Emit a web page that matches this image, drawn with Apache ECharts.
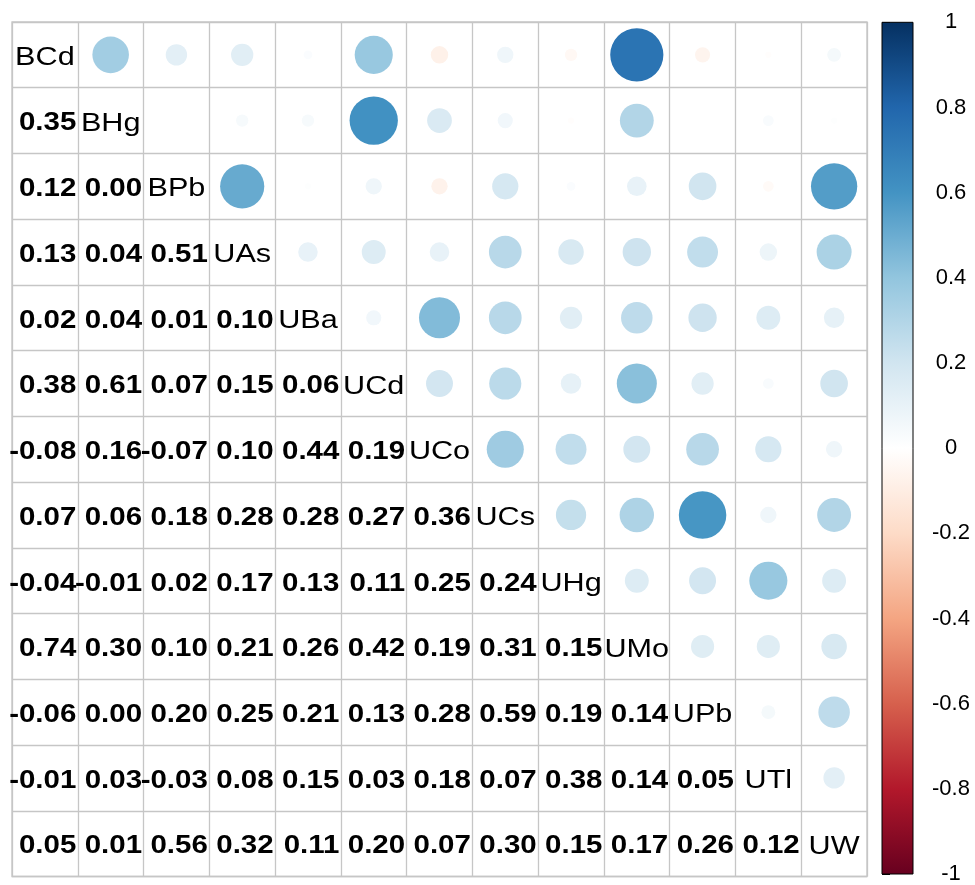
<!DOCTYPE html>
<html>
<head>
<meta charset="utf-8">
<script src="https://cdn.jsdelivr.net/npm/echarts@6/dist/echarts.min.js"></script>
<style>html,body{margin:0;padding:0;background:#fff;}#chart{width:975px;height:885px;}</style>
</head>
<body>
<div id="chart"></div>
<script>
// Variables (diagonal labels / axis categories)
const labels = ['BCd','BHg','BPb','UAs','UBa','UCd','UCo','UCs','UHg','UMo','UPb','UTl','UW'];
// Lower-triangle correlations, one array per row (columns from BCd onward)
const rBHg = [0.35];
const rBPb = [0.12, 0.00];
const rUAs = [0.13, 0.04, 0.51];
const rUBa = [0.02, 0.04, 0.01, 0.10];
const rUCd = [0.38, 0.61, 0.07, 0.15, 0.06];
const rUCo = [-0.08, 0.16, -0.07, 0.10, 0.44, 0.19];
const rUCs = [0.07, 0.06, 0.18, 0.28, 0.28, 0.27, 0.36];
const rUHg = [-0.04, -0.01, 0.02, 0.17, 0.13, 0.11, 0.25, 0.24];
const rUMo = [0.74, 0.30, 0.10, 0.21, 0.26, 0.42, 0.19, 0.31, 0.15];
const rUPb = [-0.06, 0.00, 0.20, 0.25, 0.21, 0.13, 0.28, 0.59, 0.19, 0.14];
const rUTl = [-0.01, 0.03, -0.03, 0.08, 0.15, 0.03, 0.18, 0.07, 0.38, 0.14, 0.05];
const rUW  = [0.05, 0.01, 0.56, 0.32, 0.11, 0.20, 0.07, 0.30, 0.15, 0.17, 0.26, 0.12];
// Colour scale (from -1 to 1) and colour-bar tick labels
const rdbu = ['#67001F','#B2182B','#D6604D','#F4A582','#FDDBC7','#FFFFFF','#D1E5F0','#92C5DE','#4393C3','#2166AC','#053061'];
const barTicks = ['-1','-0.8','-0.6','-0.4','-0.2','0','0.2','0.4','0.6','0.8','1'];

const lowerRows = [[], rBHg, rBPb, rUAs, rUBa, rUCd, rUCo, rUCs, rUHg, rUMo, rUPb, rUTl, rUW];
const numberData = [];   // lower triangle: [col, row, value]
const circleData = [];   // upper triangle (mirrored): [col, row, value]
lowerRows.forEach(function (row, i) {
  row.forEach(function (v, j) {
    numberData.push([j, i, v]);
    circleData.push([i, j, v]);
  });
});
const diagData = labels.map(function (l, i) { return [i, i, l]; });

const FONT = '"Liberation Sans", Arial, Helvetica, sans-serif';
const SX = 1.155;

const chart = echarts.init(document.getElementById('chart'), null, {renderer: 'canvas'});
const gridLine = '#c6c6c6';

chart.setOption({
  backgroundColor: '#ffffff',
  animation: false,
  grid: [
    {left: 12, top: 22, width: 855, height: 854.5, show: true, borderColor: gridLine, borderWidth: 1.3, backgroundColor: 'transparent'},
    {left: 882, top: 22.3, width: 31, height: 854.4}
  ],
  xAxis: [
    {type: 'category', gridIndex: 0, data: labels, boundaryGap: true,
     axisLine: {show: false}, axisTick: {show: false}, axisLabel: {show: false},
     splitLine: {show: true, interval: 0, lineStyle: {color: gridLine, width: 1.3}}},
    {type: 'value', gridIndex: 1, min: 0, max: 1, show: false}
  ],
  yAxis: [
    {type: 'category', gridIndex: 0, data: labels, inverse: true, boundaryGap: true,
     axisLine: {show: false}, axisTick: {show: false}, axisLabel: {show: false},
     splitLine: {show: true, interval: 0, lineStyle: {color: gridLine, width: 1.3}}},
    {type: 'value', gridIndex: 1, min: -1, max: 1, interval: 0.2, position: 'right',
     axisLine: {show: false},
     axisTick: {show: true, length: 8, lineStyle: {color: '#000', width: 1}},
     splitLine: {show: false},
     axisLabel: {show: true, margin: 38, align: 'center', color: '#000', fontSize: 22, fontFamily: FONT,
       formatter: function (v) { return barTicks[Math.round((v + 1) / 0.2)]; }}}
  ],
  visualMap: {
    type: 'continuous', show: false, min: -1, max: 1, dimension: 2, seriesIndex: 0,
    inRange: {color: rdbu}
  },
  series: [
    {
      type: 'custom', name: 'circles', xAxisIndex: 0, yAxisIndex: 0,
      data: circleData, encode: {x: 0, y: 1},
      renderItem: function (params, api) {
        const c = api.coord([api.value(0), api.value(1)]);
        const s = api.size([1, 1]);
        const r = 0.47 * Math.sqrt(Math.abs(api.value(2))) * s[0];
        return {type: 'circle', shape: {cx: c[0], cy: c[1], r: r},
                style: {fill: api.visual('color'), stroke: null}};
      }
    },
    {
      type: 'custom', name: 'numbers', xAxisIndex: 0, yAxisIndex: 0,
      data: numberData, encode: {x: 0, y: 1},
      renderItem: function (params, api) {
        const c = api.coord([api.value(0), api.value(1)]);
        const s = api.size([1, 1]);
        const v = api.value(2);
        return {type: 'text', x: c[0] + s[0] / 2 - 1.5, y: c[1] + 2.8, scaleX: SX,
                style: {text: v.toFixed(2), x: 0, y: 0, align: 'right', verticalAlign: 'middle',
                        fontSize: 25.5, fontWeight: 'bold', fontFamily: FONT, fill: '#000'}};
      }
    },
    {
      type: 'custom', name: 'diagonal', xAxisIndex: 0, yAxisIndex: 0,
      data: diagData, dimensions: ['x', 'y', {name: 'label', type: 'ordinal'}], encode: {x: 0, y: 1},
      renderItem: function (params, api) {
        const d = diagData[params.dataIndex];
        const c = api.coord([d[0], d[1]]);
        return {type: 'text', x: c[0], y: c[1] + 2.8, scaleX: SX,
                style: {text: d[2], x: 0, y: 0, align: 'center', verticalAlign: 'middle',
                        fontSize: 26.5, fontWeight: 'normal', fontFamily: FONT, fill: '#000'}};
      }
    },
    {
      type: 'custom', name: 'colorbar', xAxisIndex: 1, yAxisIndex: 1,
      data: [[0, 1]], encode: {x: 0, y: 1},
      renderItem: function (params, api) {
        const p1 = api.coord([0, 1]);
        const p2 = api.coord([1, -1]);
        const stops = rdbu.slice().reverse().map(function (col, k) {
          return {offset: k / (rdbu.length - 1), color: col};
        });
        return {type: 'rect', shape: {x: p1[0], y: p1[1], width: p2[0] - p1[0], height: p2[1] - p1[1]},
                style: {fill: new echarts.graphic.LinearGradient(0, 0, 0, 1, stops), stroke: '#000', lineWidth: 1}};
      }
    }
  ]
});
</script>
</body>
</html>
